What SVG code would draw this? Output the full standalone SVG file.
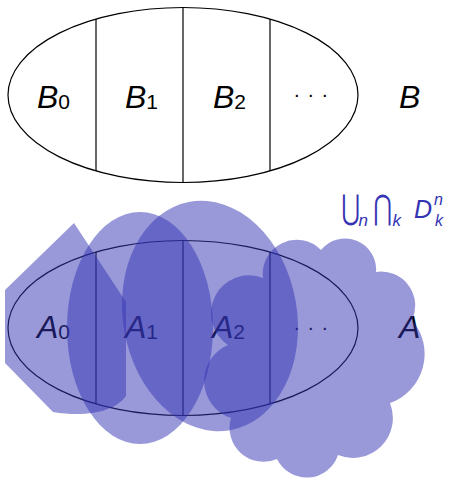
<svg xmlns="http://www.w3.org/2000/svg" width="467" height="478" viewBox="0 0 467 478">
<style>
.line{fill:none;stroke:#000;stroke-width:1.2}
.lbl{font-family:"Liberation Sans",Arial,sans-serif;font-style:italic;font-size:32px;fill:#000}
.sub{font-style:normal;font-size:21px}
.dots{font-family:"Liberation Sans",Arial,sans-serif;font-size:20px;letter-spacing:8.4px;fill:#000}
.shape{fill:#3333b3;fill-opacity:0.5;stroke:none}
.blue{fill:#3333b3}
.op{font-family:"DejaVu Sans",sans-serif;font-size:34px}
.it{font-family:"Liberation Sans",Arial,sans-serif;font-style:italic}
</style>
<g id="setB">
<ellipse class="line" cx="183" cy="95" rx="175" ry="87.5"/>
<line class="line" x1="96" y1="19" x2="96" y2="171"/>
<line class="line" x1="183" y1="7.5" x2="183" y2="182.5"/>
<line class="line" x1="270" y1="19" x2="270" y2="171"/>
<text class="lbl" x="37" y="108">B<tspan class="sub" dy="1">0</tspan></text>
<text class="lbl" x="125" y="108">B<tspan class="sub" dy="1">1</tspan></text>
<text class="lbl" x="213" y="108">B<tspan class="sub" dy="1">2</tspan></text>
<text class="dots" x="294" y="97">...</text>
<text class="lbl" x="399" y="108">B</text>
</g>
<g id="setA">
<ellipse class="line" cx="183" cy="328" rx="175" ry="87.5"/>
<line class="line" x1="96" y1="252" x2="96" y2="404"/>
<line class="line" x1="183" y1="240.5" x2="183" y2="415.5"/>
<line class="line" x1="270" y1="252" x2="270" y2="404"/>
<text class="lbl" x="37" y="338">A<tspan class="sub" dy="1">0</tspan></text>
<text class="lbl" x="125" y="338">A<tspan class="sub" dy="1">1</tspan></text>
<text class="lbl" x="212" y="338">A<tspan class="sub" dy="1">2</tspan></text>
<text class="dots" x="294" y="330">...</text>
<text class="lbl" x="399" y="338">A</text>
</g>
<g id="shapes">
<path id="poly" class="shape" d="M74,223 L126,302 L126,396 C116,410 90,418 53,412 L5,363 L5,290 Z"/>
<ellipse id="ellA" class="shape" cx="140" cy="328" rx="73" ry="116"/>
<ellipse id="ellB" class="shape" cx="210" cy="316" rx="87" ry="116" transform="rotate(-10 210 316)"/>
<path id="cloud" class="shape" d="M263,278 A34,34 0 0 1 321,250 A31,31 0 0 1 376,272 A34,34 0 0 1 412,320 A52,52 0 0 1 390,403 A40,40 0 0 1 338,455 A33,33 0 0 1 277,459 A34,34 0 0 1 231,418 A39,39 0 0 1 228,345 A38,38 0 0 1 263,278 Z"/>
</g>
<g id="formula" class="blue">
<text class="op" transform="translate(341.5,219) scale(0.66,1)">⋃</text>
<text class="it" x="358.5" y="226" font-size="17">n</text>
<text class="op" transform="translate(373.5,219) scale(0.66,1)">⋂</text>
<text class="it" x="392.5" y="226" font-size="17">k</text>
<text class="it" x="414" y="218" font-size="25">D</text>
<text class="it" x="434" y="205" font-size="16">n</text>
<text class="it" x="435" y="226" font-size="16">k</text>
</g>
</svg>
